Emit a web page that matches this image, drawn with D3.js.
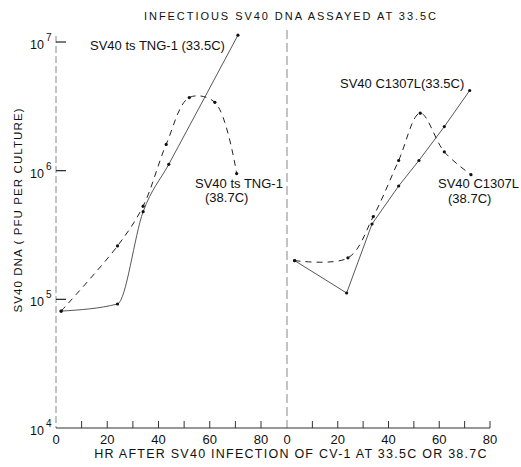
<!DOCTYPE html>
<html>
<head>
<meta charset="utf-8">
<script src="https://cdn.jsdelivr.net/npm/d3@7"></script>
<style>
  body { margin: 0; background: #fff; }
  text { font-family: "Liberation Sans", Arial, sans-serif; fill: #111; }
</style>
</head>
<body>
<svg id="chart" width="521" height="467"></svg>
<script>
// hours after infection
var tngHours33 = [2, 24, 34, 44, 71];
var tngPfu33   = [8.1e4, 9.2e4, 4.8e5, 1.12e6, 1.13e7];
var tngHours38 = [2, 24, 34, 43, 52, 62, 70.5];
var tngPfu38   = [8.1e4, 2.6e5, 5.3e5, 1.6e6, 3.7e6, 3.4e6, 9.5e5];

var clHours33 = [3, 23.5, 33.5, 44, 52, 62, 72];
var clPfu33   = [2.0e5, 1.12e5, 3.85e5, 7.6e5, 1.2e6, 2.2e6, 4.2e6];
var clHours38 = [3, 24, 34, 44, 52.5, 62, 72.5];
var clPfu38   = [2.0e5, 2.1e5, 4.4e5, 1.2e6, 2.8e6, 1.4e6, 9.3e5];

var xTicks = [0, 10, 20, 30, 40, 50, 60, 70, 80];
var xTickLabels = [0, 20, 40, 60, 80];
var yTicks = [1e4, 1e5, 1e6, 1e7];

var svg = d3.select("#chart");

var y = d3.scaleLog().domain([1e4, 1e7]).range([428, 42]);
var xLeft = d3.scaleLinear().domain([0, 80]).range([56, 261]);
var xRight = d3.scaleLinear().domain([0, 80]).range([287, 490]);

function zip(h, v) { return h.map(function(d, i) { return [d, v[i]]; }); }

// title
svg.append("text")
  .attr("x", 291).attr("y", 20)
  .attr("text-anchor", "middle")
  .style("font-size", "11px").style("letter-spacing", "1.95px")
  .text("INFECTIOUS SV40 DNA ASSAYED AT 33.5C");

// left y axis line (faint dashed) and the divider
svg.append("line")
  .attr("x1", 56).attr("x2", 56).attr("y1", 36).attr("y2", 428)
  .attr("stroke", "#888").attr("stroke-width", 1).attr("stroke-dasharray", "7,3");
svg.append("line")
  .attr("x1", 287).attr("x2", 287).attr("y1", 30).attr("y2", 428)
  .attr("stroke", "#888").attr("stroke-width", 1).attr("stroke-dasharray", "9,4");

// y ticks
yTicks.forEach(function(t) {
  if (t > 1e4) {
    svg.append("line")
      .attr("x1", 56).attr("x2", 66).attr("y1", y(t)).attr("y2", y(t))
      .attr("stroke", "#222").attr("stroke-width", 1.2);
  }
  svg.append("text")
    .attr("x", 44).attr("y", y(t) + 7)
    .attr("text-anchor", "end")
    .style("font-size", "12.5px")
    .text("10");
  svg.append("text")
    .attr("x", 46).attr("y", y(t) - 1)
    .style("font-size", "10px")
    .text(Math.round(Math.log10(t)));
});

// x axis
svg.append("line")
  .attr("x1", 56).attr("x2", 490).attr("y1", 428).attr("y2", 428)
  .attr("stroke", "#333").attr("stroke-width", 1.2);

[xLeft, xRight].forEach(function(sc) {
  svg.selectAll(null).data(xTicks.slice(1)).enter().append("line")
    .attr("x1", function(d) { return sc(d); }).attr("x2", function(d) { return sc(d); })
    .attr("y1", 428).attr("y2", 421)
    .attr("stroke", "#333").attr("stroke-width", 1);
  svg.selectAll(null).data(xTickLabels).enter().append("text")
    .attr("x", function(d) { return sc(d); }).attr("y", 444)
    .attr("text-anchor", "middle")
    .style("font-size", "13px")
    .text(function(d) { return d; });
});

svg.append("text")
  .attr("x", 291).attr("y", 458)
  .attr("text-anchor", "middle")
  .style("font-size", "12.5px").style("letter-spacing", "1.25px")
  .text("HR AFTER SV40 INFECTION OF CV-1 AT 33.5C OR 38.7C");

svg.append("text")
  .attr("transform", "translate(22,210) rotate(-90)")
  .attr("text-anchor", "middle")
  .style("font-size", "11.5px").style("letter-spacing", "1.1px")
  .text("SV40 DNA ( PFU PER CULTURE)");

// series
function drawSeries(sc, hours, pfu, dashed, curve) {
  var pts = zip(hours, pfu);
  var line = d3.line()
    .x(function(d) { return sc(d[0]); })
    .y(function(d) { return y(d[1]); })
    .curve(curve);
  svg.append("path")
    .attr("d", line(pts))
    .attr("fill", "none")
    .attr("stroke", dashed ? "#222" : "#444")
    .attr("stroke-width", dashed ? 1 : 0.9)
    .attr("stroke-dasharray", dashed ? "6,5" : null);
  svg.selectAll(null).data(pts).enter().append("circle")
    .attr("cx", function(d) { return sc(d[0]); })
    .attr("cy", function(d) { return y(d[1]); })
    .attr("r", 1.6)
    .attr("fill", "#111");
}

drawSeries(xLeft, tngHours33, tngPfu33, false, d3.curveMonotoneX);
drawSeries(xLeft, tngHours38, tngPfu38, true, d3.curveCatmullRom.alpha(0.5));
drawSeries(xRight, clHours33, clPfu33, false, d3.curveLinear);
drawSeries(xRight, clHours38, clPfu38, true, d3.curveCatmullRom.alpha(0.5));

// curve labels
function label(x, yy, s) {
  svg.append("text").attr("x", x).attr("y", yy)
    .style("font-size", "13px").text(s);
}
label(90, 50, "SV40 ts TNG-1 (33.5C)");
label(195, 188, "SV40 ts TNG-1");
label(205, 202, "(38.7C)");
label(340, 88, "SV40 C1307L(33.5C)");
label(438, 188, "SV40 C1307L");
label(448, 203, "(38.7C)");
</script>
</body>
</html>
